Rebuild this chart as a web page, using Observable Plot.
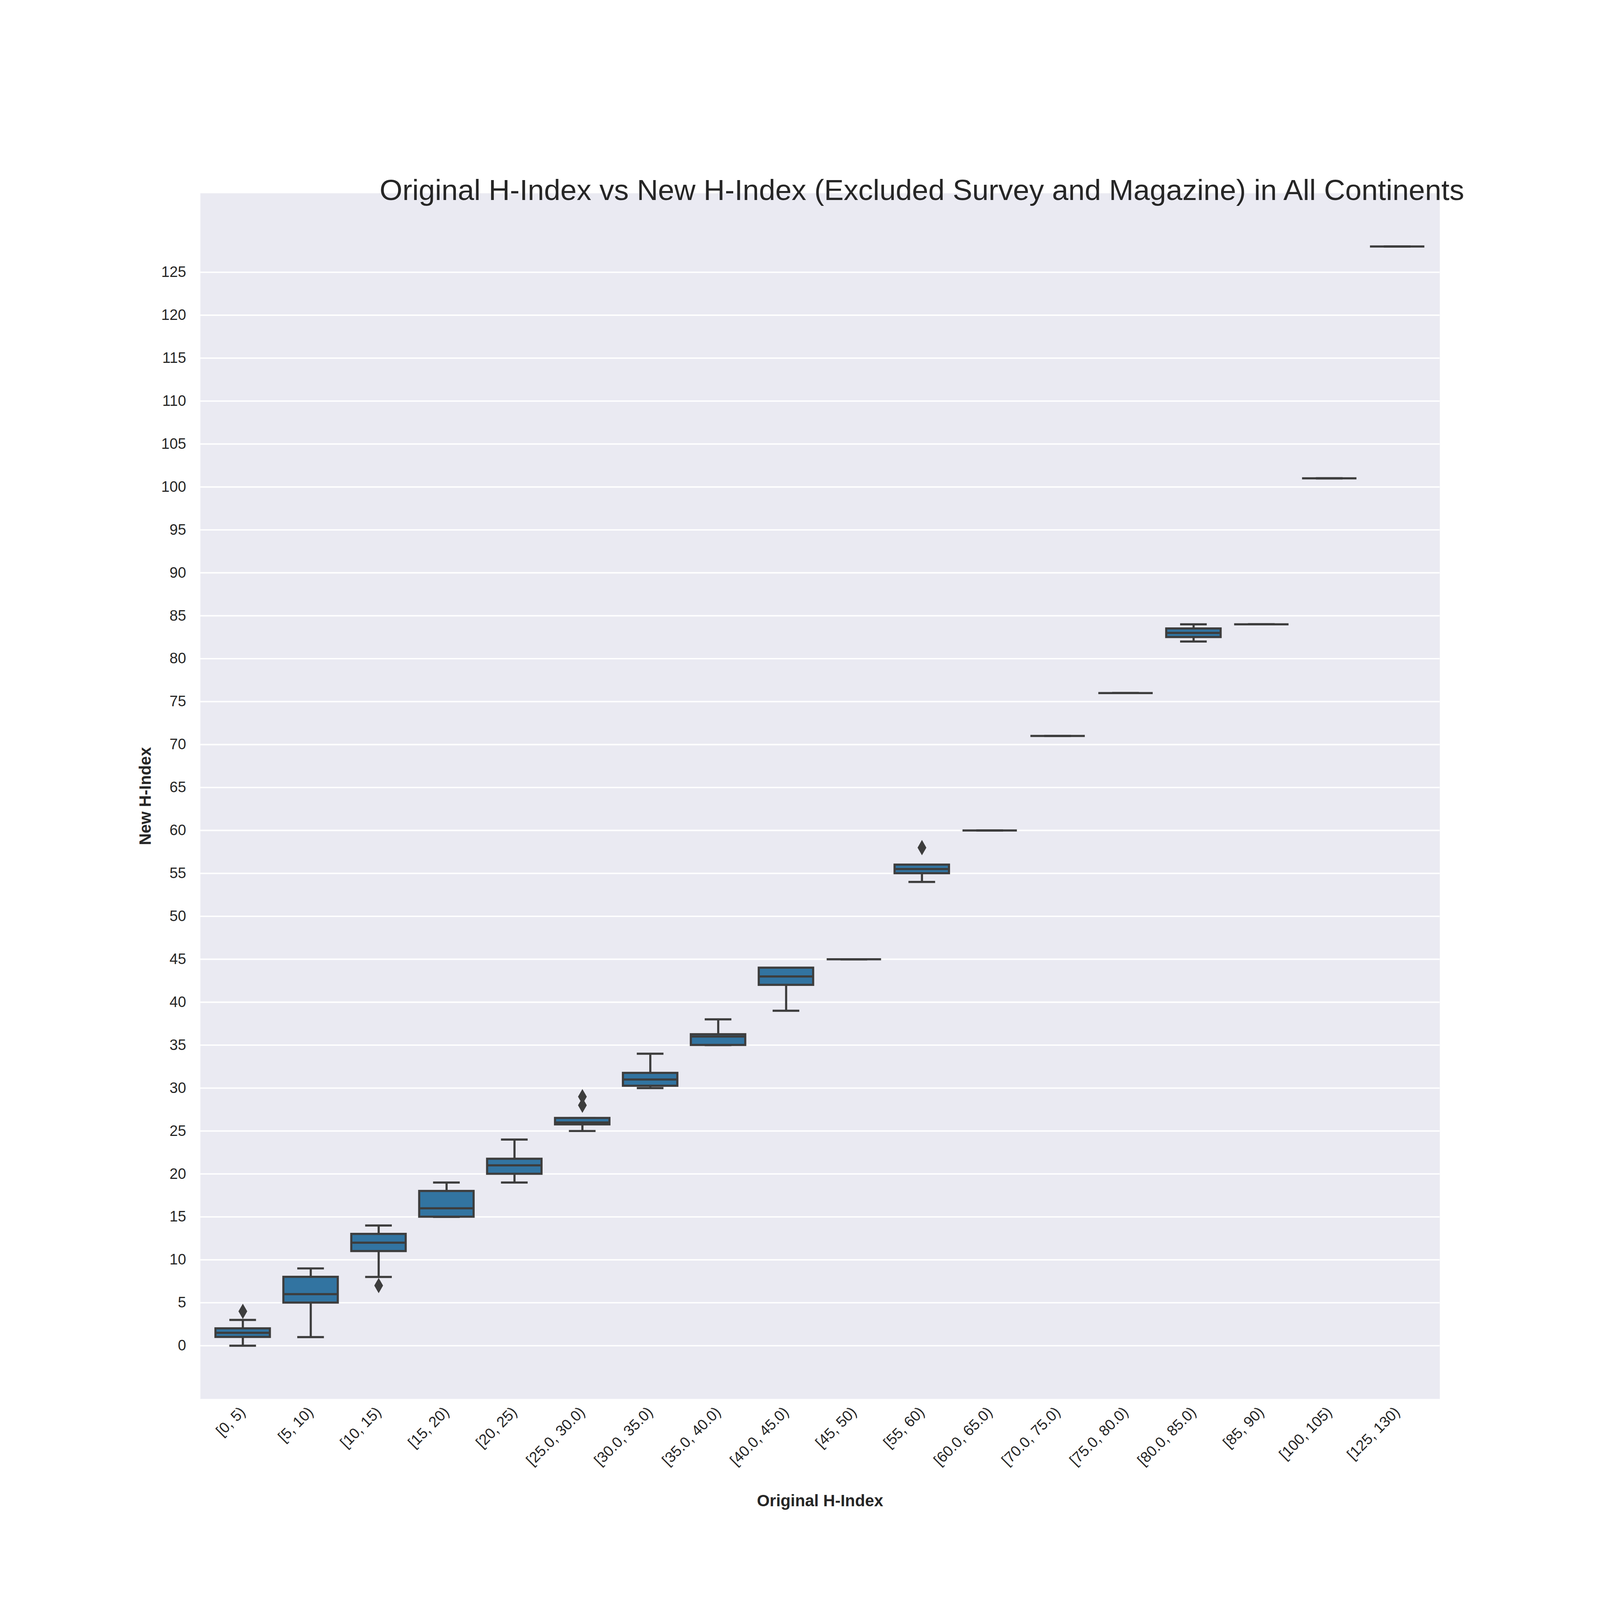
<!DOCTYPE html>
<html>
<head>
<meta charset="utf-8">
<script src="https://cdn.jsdelivr.net/npm/d3@7"></script>
<script src="https://cdn.jsdelivr.net/npm/@observablehq/plot@0.6"></script>
<style>
  body { margin: 0; background: #fff; font-family: Arial, "Liberation Sans", sans-serif; }
  #title { position: absolute; top: 441px; left: 0; width: 4500px; padding-left: 110px; height: 90px; font-size: 75px; line-height: 90px; text-align: center; color: #262626; z-index: 2; }
  #chart { position: absolute; top: 0; left: 0; }
  g[aria-label="x-axis label"] text, g[aria-label="y-axis label"] text { font-weight: bold; font-size: 46px; }
</style>
</head>
<body>
<div id="chart"></div>
<div id="title">Original H-Index vs New H-Index (Excluded Survey and Magazine) in All Continents</div>
<script>
const bins = ["[0, 5)", "[5, 10)", "[10, 15)", "[15, 20)", "[20, 25)", "[25.0, 30.0)", "[30.0, 35.0)", "[35.0, 40.0)", "[40.0, 45.0)", "[45, 50)", "[55, 60)", "[60.0, 65.0)", "[70.0, 75.0)", "[75.0, 80.0)", "[80.0, 85.0)", "[85, 90)", "[100, 105)", "[125, 130)"];
const q1     = [1, 5, 11, 15, 20, 25.75, 30.25, 35, 42, 45, 55, 60, 71, 76, 82.5, 84, 101, 128];
const median = [1.5, 6, 12, 16, 21, 26, 31, 36, 43, 45, 55.5, 60, 71, 76, 83, 84, 101, 128];
const q3     = [2, 8, 13, 18, 21.75, 26.5, 31.75, 36.25, 44, 45, 56, 60, 71, 76, 83.5, 84, 101, 128];
const whiskLow  = [0, 1, 8, 15, 19, 25, 30, 35, 39, 45, 54, 60, 71, 76, 82, 84, 101, 128];
const whiskHigh = [3, 9, 14, 19, 24, 26.5, 34, 38, 44, 45, 56, 60, 71, 76, 84, 84, 101, 128];
const outlierBin = ["[0, 5)", "[10, 15)", "[25.0, 30.0)", "[25.0, 30.0)", "[55, 60)"];
const outlierVal = [4, 7, 28, 29, 58];
const yTicks = d3.range(0, 130, 5);

const boxes = bins.map((b, i) => ({bin: b, q1: q1[i], med: median[i], q3: q3[i], lo: whiskLow[i], hi: whiskHigh[i]}));
const outliers = outlierBin.map((b, i) => ({bin: b, v: outlierVal[i]}));
const dark = "#3d3d3d";
const sw = 6;

const chart = Plot.plot({
  width: 4500,
  height: 4500,
  marginTop: 543,
  marginBottom: 566,
  marginLeft: 563,
  marginRight: 451,
  style: {fontSize: "42px", fontFamily: "Arial, 'Liberation Sans', sans-serif", color: "#262626"},
  x: {domain: bins, padding: 0.2, label: "Original H-Index", labelAnchor: "center", labelOffset: 302, tickRotate: -45, tickSize: 0, tickPadding: 30},
  y: {domain: [-6.2, 134.2], ticks: yTicks, label: "New H-Index", labelAnchor: "center", labelOffset: 172, labelArrow: "none", tickSize: 0, tickPadding: 40},
  marks: [
    Plot.frame({fill: "#eaeaf2", stroke: null}),
    Plot.gridY(yTicks, {stroke: "#fff", strokeOpacity: 1, strokeWidth: 4}),
    Plot.ruleX(boxes, {x: "bin", y1: "lo", y2: "q1", stroke: dark, strokeWidth: sw}),
    Plot.ruleX(boxes, {x: "bin", y1: "q3", y2: "hi", stroke: dark, strokeWidth: sw}),
    Plot.tickY(boxes, {x: "bin", y: "lo", stroke: dark, strokeWidth: sw, insetLeft: 39, insetRight: 39}),
    Plot.tickY(boxes, {x: "bin", y: "hi", stroke: dark, strokeWidth: sw, insetLeft: 39, insetRight: 39}),
    Plot.barY(boxes, {x: "bin", y1: "q1", y2: "q3", fill: "#3274a1", stroke: dark, strokeWidth: sw}),
    Plot.tickY(boxes, {x: "bin", y: "med", stroke: dark, strokeWidth: sw}),
    Plot.dot(outliers, {x: "bin", y: "v", symbol: "diamond", r: 13, fill: dark, stroke: null})
  ]
});
d3.select("#chart").append(() => chart);
</script>
</body>
</html>
